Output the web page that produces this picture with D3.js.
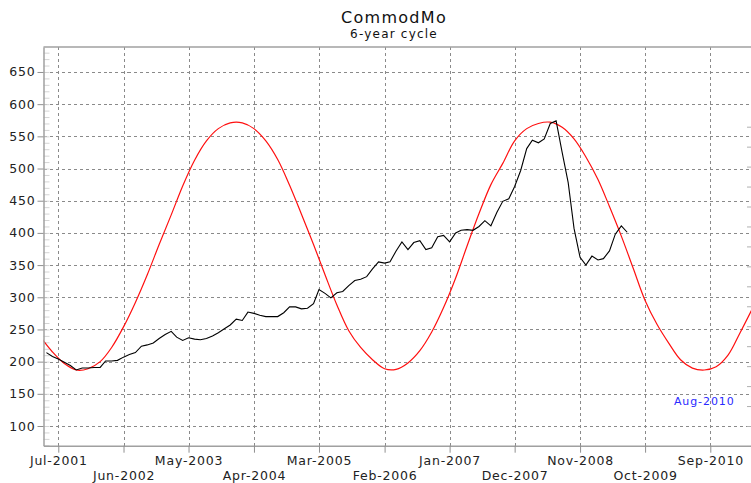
<!DOCTYPE html>
<html>
<head>
<meta charset="utf-8">
<script src="https://cdn.jsdelivr.net/npm/d3@7"></script>
<style>
  body { margin: 0; background: #fff; }
  text { font-family: "DejaVu Sans", Verdana, sans-serif; }
</style>
</head>
<body>
<svg id="chart"></svg>
<script>
// monthly index values, first point May-2001
const indexStart = "2001-05";
const indexValues = [
    214, 208, 204, 199, 194, 187, 190, 190, 191, 191,
    201, 201, 202, 207, 211, 214, 224, 226, 229, 236,
    242, 247, 238, 233, 237, 235, 234, 236, 240, 245,
    251, 257, 266, 264, 277, 275, 272, 270, 270, 270,
    276, 285, 285, 282, 283, 290, 312, 306, 299, 307,
    309, 318, 326, 328, 332, 344, 355, 353, 355, 372,
    386, 374, 385, 388, 374, 377, 394, 396, 386, 400,
    404, 405, 404, 410, 419, 411, 432, 449, 453, 472,
    497, 531, 544, 540, 546, 570, 574, 525, 478, 407,
    362, 350, 364, 358, 360, 372, 398, 411, 401
];

// cycle curve, one value every 2 months, first point Apr-2001
const cycleStart = "2001-04";
const cycleStep = 2;
const cycleValues = [
    238, 215, 197, 187, 189, 200, 222, 254, 292, 335,
    382, 428, 473, 513, 543, 562, 571, 571, 562, 543,
    514, 474, 429, 382, 335, 288, 248, 222, 203, 189,
    188, 198, 217, 246, 284, 330, 380, 430, 475, 508,
    543, 562, 570, 572, 564, 546, 518, 483, 441, 395,
    345, 295, 258, 228, 203, 190, 187, 192, 210, 245,
    280
];

const xTickLabels = ["Jul-2001", "Jun-2002", "May-2003", "Apr-2004", "Mar-2005", "Feb-2006",
    "Jan-2007", "Dec-2007", "Nov-2008", "Oct-2009", "Sep-2010"];
const yTicks = [100, 150, 200, 250, 300, 350, 400, 450, 500, 550, 600, 650];
const markerLabel = "Aug-2010";
const markerValue = 133;

const W = 751, H = 483;
const margin = { top: 47, right: 0, bottom: 37.3, left: 43.5 };

const parseMonth = d3.timeParse("%Y-%m");
const parseTick = d3.timeParse("%b-%Y");

const indexData = indexValues.map((v, i) => ({ date: d3.timeMonth.offset(parseMonth(indexStart), i), value: v }));
const cycleData = cycleValues.map((v, i) => ({ date: d3.timeMonth.offset(parseMonth(cycleStart), i * cycleStep), value: v }));
const tickDates = xTickLabels.map(parseTick);

const svg = d3.select("#chart").attr("width", W).attr("height", H);

const x = d3.scaleTime()
    .domain([new Date(2001, 3, 16), new Date(2011, 2, 29)])
    .range([margin.left, W - margin.right]);

const y = d3.scaleLinear()
    .domain([69.4, 688.8])
    .range([H - margin.bottom, margin.top]);

svg.append("clipPath").attr("id", "plot")
    .append("rect")
    .attr("x", margin.left).attr("y", margin.top)
    .attr("width", W - margin.right - margin.left)
    .attr("height", H - margin.bottom - margin.top);

// grid
const grid = svg.append("g")
    .attr("stroke", "#8a8a8a")
    .attr("stroke-dasharray", "3,3")
    .attr("shape-rendering", "crispEdges");

grid.selectAll("line.h")
    .data(yTicks)
    .join("line")
    .attr("class", "h")
    .attr("x1", margin.left).attr("x2", W)
    .attr("y1", d => Math.round(y(d)) + 0.5).attr("y2", d => Math.round(y(d)) + 0.5);

grid.selectAll("line.v")
    .data(tickDates)
    .join("line")
    .attr("class", "v")
    .attr("x1", d => Math.round(x(d)) + 0.5).attr("x2", d => Math.round(x(d)) + 0.5)
    .attr("y1", margin.top).attr("y2", H - margin.bottom);

// minor ticks inside the left and right edges
svg.append("g")
    .attr("transform", `translate(${margin.left},0)`)
    .call(d3.axisRight(y).tickValues(d3.range(70, 690, 10)).tickSize(6).tickFormat(""))
    .call(g => g.select(".domain").remove())
    .call(g => g.selectAll("line").attr("stroke", "#d4d4d4"));

svg.append("g")
    .attr("transform", `translate(${W},0)`)
    .call(d3.axisLeft(y).tickValues(d3.range(565, 60, -31)).tickSize(4).tickFormat(""))
    .call(g => g.select(".domain").remove())
    .call(g => g.selectAll("line").attr("stroke", "#b0b0b0"));

// lines
const line = d3.line()
    .x(d => x(d.date))
    .y(d => y(d.value));

const plot = svg.append("g").attr("clip-path", "url(#plot)");

plot.append("path")
    .datum(cycleData)
    .attr("d", line.curve(d3.curveCatmullRom))
    .attr("fill", "none")
    .attr("stroke", "#ff1010")
    .attr("stroke-width", 1.2);

plot.append("path")
    .datum(indexData)
    .attr("d", line.curve(d3.curveLinear))
    .attr("fill", "none")
    .attr("stroke", "#000")
    .attr("stroke-width", 1.1);

// axes
const axisColor = "#a0a0a0";

svg.append("line")
    .attr("x1", margin.left).attr("x2", W)
    .attr("y1", margin.top).attr("y2", margin.top)
    .attr("stroke", axisColor).attr("stroke-width", 1.5);

const yAxis = svg.append("g")
    .attr("transform", `translate(${margin.left},0)`)
    .call(d3.axisLeft(y).tickValues(yTicks).tickSize(6).tickPadding(2).tickSizeOuter(0));

const xAxis = svg.append("g")
    .attr("transform", `translate(0,${H - margin.bottom})`)
    .call(d3.axisBottom(x).tickValues(tickDates).tickSize(7).tickPadding(3).tickSizeOuter(0)
        .tickFormat(d3.timeFormat("%b-%Y")));

[yAxis, xAxis].forEach(g => {
    g.select(".domain").attr("stroke", axisColor).attr("stroke-width", 1.5);
    g.selectAll(".tick line").attr("stroke", "#909090");
    g.selectAll("text")
        .attr("fill", "#222")
        .style("font-size", "12.5px")
        .style("letter-spacing", "0.8px")
        .style("font-family", "'DejaVu Sans', Verdana, sans-serif");
});

xAxis.selectAll(".tick text")
    .attr("dy", "0.71em")
    .attr("y", (d, i) => i % 2 === 0 ? 10 : 25);

// marker label for the cycle low
svg.append("text")
    .attr("x", x(parseTick(markerLabel)))
    .attr("y", y(markerValue))
    .attr("text-anchor", "middle")
    .attr("fill", "#2a2aff")
    .style("font-size", "11px")
    .style("letter-spacing", "0.9px")
    .text(markerLabel);

// titles
svg.append("text")
    .attr("x", 394).attr("y", 23)
    .attr("text-anchor", "middle")
    .attr("fill", "#111")
    .style("font-size", "16px")
    .style("letter-spacing", "1.3px")
    .text("CommodMo");

svg.append("text")
    .attr("x", 394).attr("y", 38)
    .attr("text-anchor", "middle")
    .attr("fill", "#111")
    .style("font-size", "12px")
    .style("letter-spacing", "1.2px")
    .text("6-year cycle");
</script>
</body>
</html>
